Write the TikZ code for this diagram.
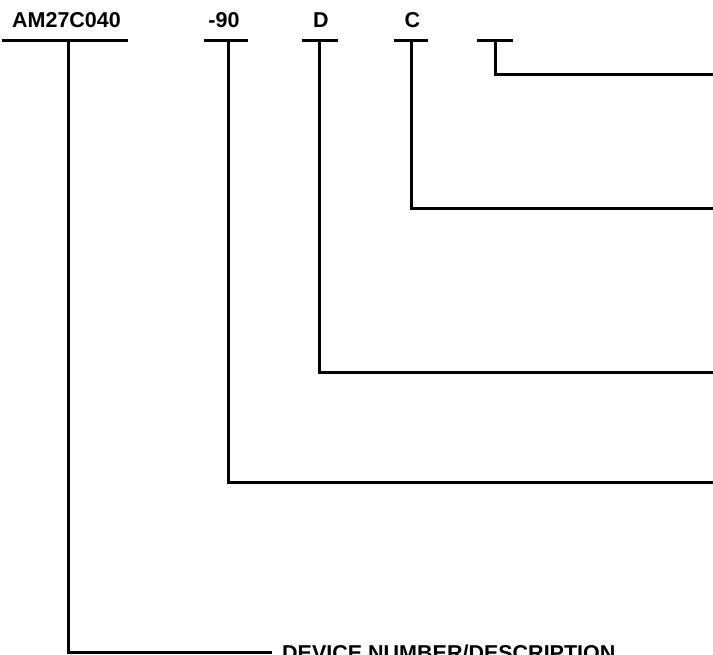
\documentclass[tikz,border=0pt]{standalone}
\usepackage{fontspec}
\setmainfont{Liberation Sans}
\begin{document}
\begin{tikzpicture}[x=1pt,y=1pt,
  lbl/.style={font=\bfseries\fontsize{21.5}{26}\selectfont, inner sep=0pt, anchor=base},
  rule/.style={line width=3pt},
  conn/.style={line width=3pt}]
\useasboundingbox (0,0) rectangle (713,-655);
% labels
\node[lbl] (pn) at (66.5,-28) {AM27C040};
\node[lbl] (sp) at (224,-28) {-90};
\node[lbl] (pk) at (321,-28) {D};
\node[lbl] (tr) at (412.5,-28) {C};
% underlines
\coordinate (u1l) at (2,-41);   \coordinate (u1r) at (128,-41);  \coordinate (u1) at (68,-41);
\coordinate (u2l) at (204,-41); \coordinate (u2r) at (248,-41);  \coordinate (u2) at (228,-41);
\coordinate (u3l) at (302,-41); \coordinate (u3r) at (338,-41);  \coordinate (u3) at (319.5,-41);
\coordinate (u4l) at (394,-41); \coordinate (u4r) at (428,-41);  \coordinate (u4) at (411.5,-41);
\coordinate (u5l) at (477,-41); \coordinate (u5r) at (513,-41);  \coordinate (u5) at (495,-41);
\foreach \i in {1,...,5} \draw[rule] (u\i l) -- (u\i r);
% free ends at the right edge
\coordinate (e5) at (716,-75);
\coordinate (e4) at (716,-209);
\coordinate (e3) at (716,-373);
\coordinate (e2) at (716,-482);
% bottom description
\node[lbl, anchor=base west] (dn) at (282,-660) {DEVICE NUMBER/DESCRIPTION};
\coordinate (e1) at (272,-652);
% connectors
\draw[conn] (u5) |- (e5);
\draw[conn] (u4) |- (e4);
\draw[conn] (u3) |- (e3);
\draw[conn] (u2) |- (e2);
\draw[conn] (u1) |- (e1);
\end{tikzpicture}
\end{document}
